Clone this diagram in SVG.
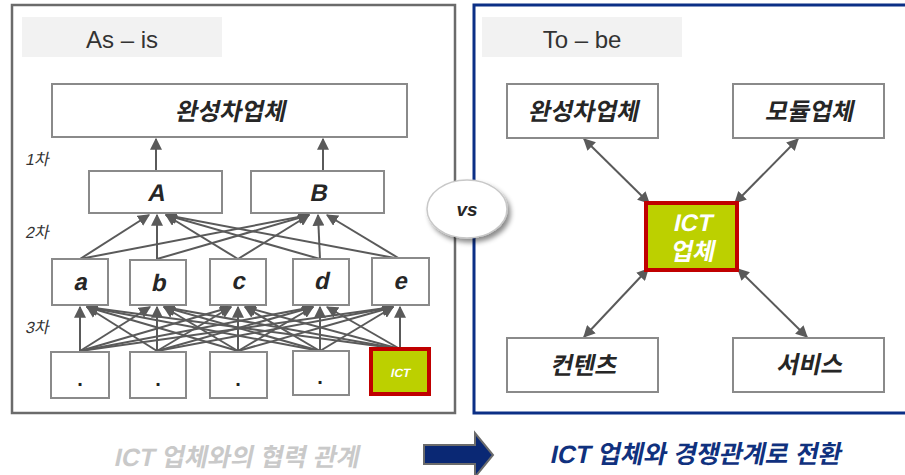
<svg xmlns="http://www.w3.org/2000/svg" width="905" height="475" viewBox="0 0 905 475">
  <defs>
    <style>
      .panel-l { fill: #ffffff; stroke: #6b6b6b; stroke-width: 2.5; }
      .panel-r { fill: #ffffff; stroke: #0b2f86; stroke-width: 3; }
      .tag { fill: #f2f2f2; }
      .tagtxt { font-family: "Liberation Sans", Arial, sans-serif; font-size: 24px; fill: #333333; text-anchor: middle; }
      .box { fill: #ffffff; stroke: #8a8a8a; stroke-width: 2; }
      .ict { fill: #bcd000; stroke: #c00000; stroke-width: 4; }
      .lbl { font-family: "Liberation Sans", "Noto Sans CJK KR", sans-serif; font-weight: bold; font-size: 24px; fill: #262626; text-anchor: middle; }
      .ictlbl { font-family: "Liberation Sans", "Noto Sans CJK KR", sans-serif; font-weight: bold; fill: #ffffff; text-anchor: middle; }
      .tier { font-family: "Liberation Sans", "Noto Sans CJK KR", sans-serif; font-size: 16px; fill: #333333; }
      .dot { font-family: "Liberation Sans", sans-serif; font-weight: bold; font-size: 20px; fill: #222222; text-anchor: middle; }
      .link { stroke: #5a5a5a; stroke-width: 2; fill: none; marker-end: url(#ah); }
      .link2 { stroke: #5a5a5a; stroke-width: 2; fill: none; marker-start: url(#ah2); marker-end: url(#ah2); }
      .caption { font-family: "Liberation Sans", "Noto Sans CJK KR", sans-serif; font-weight: bold; font-size: 25px; text-anchor: middle; }
    </style>
    <marker id="ah" viewBox="0 0 10 10" refX="9" refY="5" markerWidth="6" markerHeight="6" markerUnits="strokeWidth" orient="auto">
      <path d="M0,0 L10,5 L0,10 z" fill="#5a5a5a"/>
    </marker>
    <marker id="ah2" viewBox="0 0 10 10" refX="9" refY="5" markerWidth="6" markerHeight="6" markerUnits="strokeWidth" orient="auto-start-reverse">
      <path d="M0,0 L10,5 L0,10 z" fill="#5a5a5a"/>
    </marker>
    <filter id="shadow" x="-30%" y="-30%" width="160%" height="170%">
      <feDropShadow dx="3" dy="4" stdDeviation="2.5" flood-color="#000000" flood-opacity="0.45"/>
    </filter>
  </defs>

  <!-- As-is panel -->
  <rect class="panel-l" x="12" y="5" width="443" height="408"/>
  <rect class="tag" x="22" y="17" width="200" height="40"/>
  <text class="tagtxt" x="122" y="48">As – is</text>

  <!-- tier labels (slanted) -->
  <text class="tier" transform="translate(25,165) skewX(-12)">1차</text>
  <text class="tier" transform="translate(25,238) skewX(-12)">2차</text>
  <text class="tier" transform="translate(25,333) skewX(-12)">3차</text>

  <!-- To-be panel -->
  <rect class="panel-r" x="474" y="5" width="440" height="408"/>
  <rect class="tag" x="482" y="17" width="200" height="40"/>
  <text class="tagtxt" x="582" y="48">To – be</text>

  <!-- connectors -->
  <g id="connectors">
    <!-- tier 1 to OEM -->
    <line class="link" x1="156" y1="171" x2="156" y2="139"/>
    <line class="link" x1="323" y1="171" x2="323" y2="139"/>
    <!-- tier 2 to tier 1 -->
    <line class="link" x1="80" y1="259" x2="149" y2="215"/>
    <line class="link" x1="157" y1="259" x2="157" y2="215"/>
    <line class="link" x1="238" y1="259" x2="166" y2="215"/>
    <line class="link" x1="320" y1="259" x2="166" y2="215"/>
    <line class="link" x1="400" y1="259" x2="166" y2="215"/>
    <line class="link" x1="80" y1="259" x2="309" y2="215"/>
    <line class="link" x1="157" y1="259" x2="309" y2="215"/>
    <line class="link" x1="238" y1="259" x2="309" y2="215"/>
    <line class="link" x1="320" y1="259" x2="318" y2="215"/>
    <line class="link" x1="400" y1="259" x2="327" y2="215"/>
    <!-- tier 3 to tier 2 -->
    <g>
      <line class="link" x1="80" y1="351" x2="80" y2="307"/>
      <line class="link" x1="80" y1="351" x2="150" y2="307"/>
      <line class="link" x1="80" y1="351" x2="231" y2="307"/>
      <line class="link" x1="80" y1="351" x2="313" y2="307"/>
      <line class="link" x1="80" y1="351" x2="393" y2="307"/>
      <line class="link" x1="157" y1="351" x2="87" y2="307"/>
      <line class="link" x1="157" y1="351" x2="157" y2="307"/>
      <line class="link" x1="157" y1="351" x2="231" y2="307"/>
      <line class="link" x1="157" y1="351" x2="313" y2="307"/>
      <line class="link" x1="157" y1="351" x2="393" y2="307"/>
      <line class="link" x1="238" y1="351" x2="87" y2="307"/>
      <line class="link" x1="238" y1="351" x2="164" y2="307"/>
      <line class="link" x1="238" y1="351" x2="238" y2="307"/>
      <line class="link" x1="238" y1="351" x2="313" y2="307"/>
      <line class="link" x1="238" y1="351" x2="393" y2="307"/>
      <line class="link" x1="320" y1="351" x2="87" y2="307"/>
      <line class="link" x1="320" y1="351" x2="164" y2="307"/>
      <line class="link" x1="320" y1="351" x2="245" y2="307"/>
      <line class="link" x1="320" y1="351" x2="320" y2="307"/>
      <line class="link" x1="320" y1="351" x2="393" y2="307"/>
      <line class="link" x1="400" y1="349" x2="87" y2="307"/>
      <line class="link" x1="400" y1="349" x2="164" y2="307"/>
      <line class="link" x1="400" y1="349" x2="245" y2="307"/>
      <line class="link" x1="400" y1="349" x2="327" y2="307"/>
      <line class="link" x1="400" y1="349" x2="400" y2="307"/>
    </g>
    <!-- to-be links -->
    <line class="link2" x1="584" y1="139" x2="649" y2="203"/>
    <line class="link2" x1="798" y1="139" x2="735" y2="203"/>
    <line class="link2" x1="648" y1="269" x2="584" y2="337"/>
    <line class="link2" x1="738" y1="269" x2="807" y2="337"/>
  </g>

  <!-- As-is nodes -->
  <g id="oem-asis">
    <rect class="box" x="52" y="84" width="355" height="53"/>
    <text class="lbl" transform="translate(230,120) skewX(-12)">완성차업체</text>
  </g>
  <g id="tier1-a">
    <rect class="box" x="89" y="171" width="133" height="42"/>
    <text class="lbl" transform="translate(156,201) skewX(-12)">A</text>
  </g>
  <g id="tier1-b">
    <rect class="box" x="251" y="171" width="133" height="42"/>
    <text class="lbl" transform="translate(318,201) skewX(-12)">B</text>
  </g>
  <g id="tier2-a">
    <rect class="box" x="52" y="259" width="56" height="46"/>
    <text class="lbl" transform="translate(80,290) skewX(-12)">a</text>
  </g>
  <g id="tier2-b">
    <rect class="box" x="130" y="260" width="56" height="45"/>
    <text class="lbl" transform="translate(158,291) skewX(-12)">b</text>
  </g>
  <g id="tier2-c">
    <rect class="box" x="210" y="259" width="56" height="46"/>
    <text class="lbl" transform="translate(238,289) skewX(-12)">c</text>
  </g>
  <g id="tier2-d">
    <rect class="box" x="293" y="259" width="56" height="46"/>
    <text class="lbl" transform="translate(321,289) skewX(-12)">d</text>
  </g>
  <g id="tier2-e">
    <rect class="box" x="372" y="258" width="57" height="47"/>
    <text class="lbl" transform="translate(400,289) skewX(-12)">e</text>
  </g>
  <g id="tier3-1">
    <rect class="box" x="51" y="352" width="58" height="46"/>
    <text class="dot" x="80" y="386">.</text>
  </g>
  <g id="tier3-2">
    <rect class="box" x="130" y="352" width="56" height="46"/>
    <text class="dot" x="158" y="386">.</text>
  </g>
  <g id="tier3-3">
    <rect class="box" x="210" y="352" width="57" height="46"/>
    <text class="dot" x="238" y="386">.</text>
  </g>
  <g id="tier3-4">
    <rect class="box" x="293" y="351" width="56" height="44"/>
    <text class="dot" x="320" y="384">.</text>
  </g>
  <g id="tier3-ict">
    <rect class="ict" x="371" y="349" width="58" height="45"/>
    <text class="ictlbl" font-size="12" transform="translate(400,377) skewX(-12)">ICT</text>
  </g>

  <!-- vs badge -->
  <g id="vs">
    <ellipse cx="467" cy="209" rx="40" ry="29" fill="#ffffff" stroke="#c8c8c8" stroke-width="1.5" filter="url(#shadow)"/>
    <text x="467" y="216" font-family="Liberation Sans, sans-serif" font-weight="bold" font-style="italic" font-size="19" fill="#262626" text-anchor="middle">vs</text>
  </g>

  <!-- To-be nodes -->
  <g id="oem-tobe">
    <rect class="box" x="507" y="84" width="151" height="54"/>
    <text class="lbl" transform="translate(583,120) skewX(-12)">완성차업체</text>
  </g>
  <g id="module">
    <rect class="box" x="733" y="84" width="151" height="54"/>
    <text class="lbl" transform="translate(809,120) skewX(-12)">모듈업체</text>
  </g>
  <g id="ict-tobe">
    <rect class="ict" x="646" y="203" width="91" height="67"/>
    <text class="ictlbl" font-size="24" transform="translate(692,231) skewX(-12)">ICT</text>
    <text class="ictlbl" font-size="24" transform="translate(692,260) skewX(-12)">업체</text>
  </g>
  <g id="contents">
    <rect class="box" x="507" y="338" width="151" height="54"/>
    <text class="lbl" transform="translate(583,374) skewX(-12)">컨텐츠</text>
  </g>
  <g id="service">
    <rect class="box" x="733" y="338" width="151" height="54"/>
    <text class="lbl" transform="translate(809,373) skewX(-12)">서비스</text>
  </g>

  <!-- captions -->
  <text class="caption" fill="#c9c9c9" transform="translate(236,466) skewX(-12)">ICT 업체와의 협력 관계</text>
  <g id="shift-arrow">
    <path d="M424,445 L475,445 L475,433 L493,455 L475,477 L475,464 L424,464 z" fill="#0a2874" stroke="#6b6b6b" stroke-width="2"/>
  </g>
  <text class="caption" fill="#10317e" transform="translate(695,463) skewX(-12)">ICT 업체와 경쟁관계로 전환</text>
</svg>
